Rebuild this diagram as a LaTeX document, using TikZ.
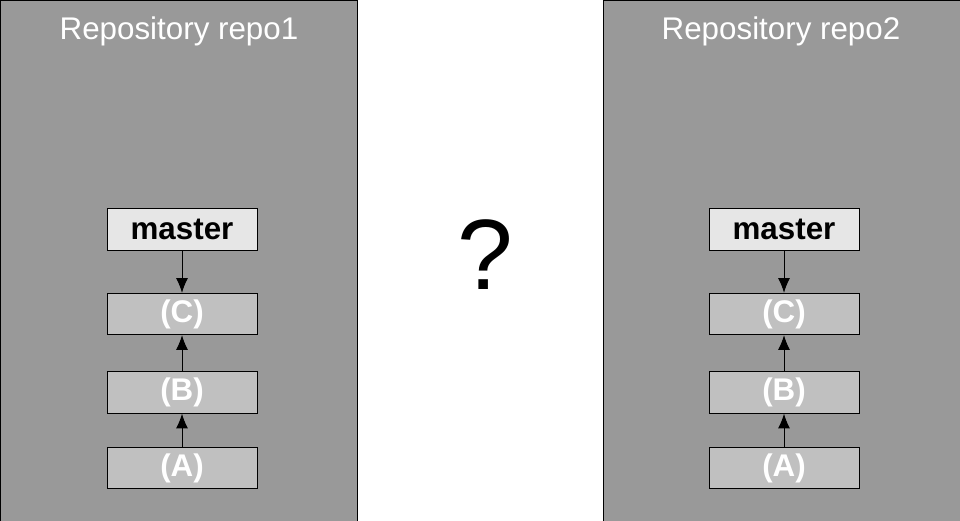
\documentclass[tikz,border=0pt]{standalone}
\usepackage{fontspec}
\setmainfont{Liberation Sans}
\usetikzlibrary{arrows.meta}
\definecolor{panelgray}{HTML}{999999}
\definecolor{commitgray}{HTML}{C0C0C0}
\definecolor{refgray}{HTML}{E6E6E6}
\begin{document}
\begin{tikzpicture}[x=0.75pt,y=-0.75pt,
    refbox/.style={draw=black,line width=0.75pt,fill=refgray,minimum width=112.5pt,
      minimum height=31pt,inner sep=0pt,font=\fontsize{23.5}{28}\selectfont\bfseries},
    commitbox/.style={draw=black,line width=0.75pt,fill=commitgray,minimum width=112.5pt,
      minimum height=31pt,inner sep=0pt,text=white,font=\fontsize{23.5}{28}\selectfont\bfseries},
    link/.style={line width=0.75pt,-{Latex[length=11pt,width=9pt]}}]
  \useasboundingbox (0,0) rectangle (960,521);

  % repo1
  \draw[fill=panelgray,line width=0.75pt] (0,0) rectangle (357,521);
  \node[text=white,font=\fontsize{23.5}{28}\selectfont] (title1) at (179,31) {Repository repo1};
  \node[refbox] (master1) at (182,229.5) {master};
  \node[commitbox] (c1) at (182,314) {(C)};
  \node[commitbox] (b1) at (182,392.5) {(B)};
  \node[commitbox] (a1) at (182,468) {(A)};
  \draw[link] (master1) -- (c1);
  \draw[link] (b1) -- (c1);
  \draw[link] (a1) -- (b1);

  \node[font=\fontsize{75}{80}\selectfont] (question) at (485,255) {?};

  % repo2
  \draw[fill=panelgray,line width=0.75pt] (603,0) rectangle (960,521);
  \node[text=white,font=\fontsize{23.5}{28}\selectfont] (title2) at (781,31) {Repository repo2};
  \node[refbox] (master2) at (784,229.5) {master};
  \node[commitbox] (c2) at (784,314) {(C)};
  \node[commitbox] (b2) at (784,392.5) {(B)};
  \node[commitbox] (a2) at (784,468) {(A)};
  \draw[link] (master2) -- (c2);
  \draw[link] (b2) -- (c2);
  \draw[link] (a2) -- (b2);
\end{tikzpicture}
\end{document}
